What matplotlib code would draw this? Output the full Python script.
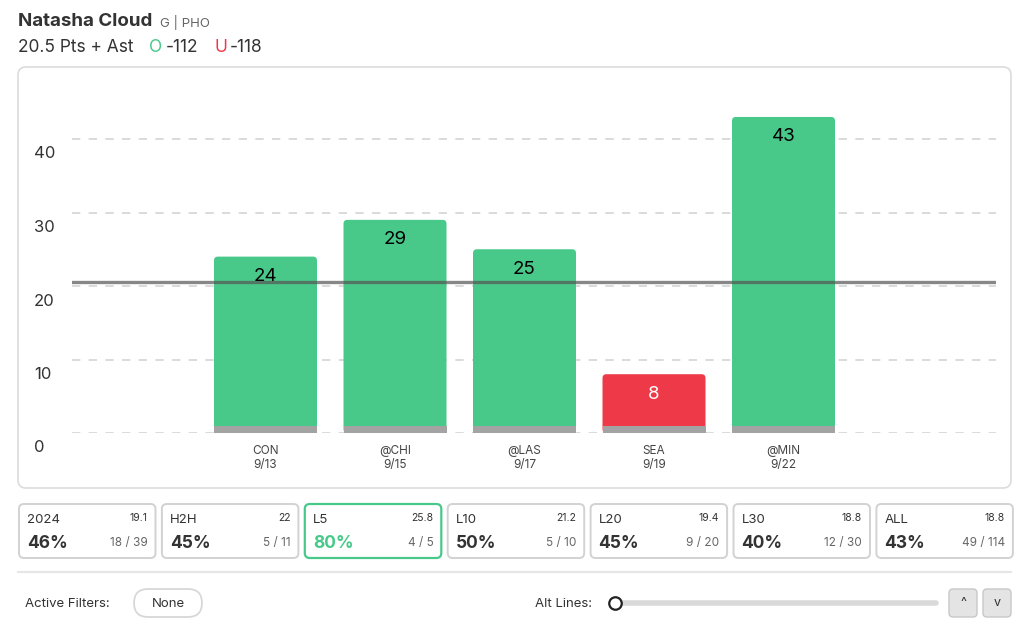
import numpy as np
import matplotlib.pyplot as plt
from matplotlib.patches import FancyBboxPatch, Rectangle
from matplotlib.lines import Line2D

plt.rcParams['font.family'] = ['Inter', 'DejaVu Sans']

#%% data

player = 'Natasha Cloud'
team = 'G | PHO'
prop_line = 20.5
prop_name = '20.5 Pts + Ast'
over_odds = '-112'
under_odds = '-118'

opponents = ['CON', '@CHI', '@LAS', 'SEA', '@MIN']
dates = ['9/13', '9/15', '9/17', '9/19', '9/22']
values = [24, 29, 25, 8, 43]
y_ticks = [0, 10, 20, 30, 40]

card_names = ['2024', 'H2H', 'L5', 'L10', 'L20', 'L30', 'ALL']
card_avgs = ['19.1', '22', '25.8', '21.2', '19.4', '18.8', '18.8']
card_pcts = ['46%', '45%', '80%', '50%', '45%', '40%', '43%']
card_hits = ['18 / 39', '5 / 11', '4 / 5', '5 / 10', '9 / 20', '12 / 30', '49 / 114']
selected = 'L5'

GREEN = '#48c98a'
RED = '#ee3a48'
DARK = '#333333'
GRAY = '#666666'

W, H = 1024, 629
fig = plt.figure(figsize=(W / 100, H / 100), dpi=100)


def fx(px):
    return px / W


def fy(py):
    return 1 - py / H


def ftext(x, y, s, **kw):
    fig.text(fx(x), fy(y), s, **kw)


def box(x0, y0, x1, y1, ec='#d6d6d6', fc='white', r=6, lw=1.2, z=-5):
    p = FancyBboxPatch((fx(x0), fy(y1)), fx(x1 - x0), (y1 - y0) / H,
                       boxstyle='round,pad=0,rounding_size=%f' % (r / W),
                       transform=fig.transFigure, ec=ec, fc=fc, lw=lw, zorder=z,
                       mutation_aspect=W / H)
    fig.patches.append(p)


#%% header

ftext(18, 21, player, fontsize=13.5, fontweight='bold', color=DARK, va='center')
ftext(160, 22, team, fontsize=9.5, color=GRAY, va='center')
ftext(18, 47, prop_name, fontsize=12.5, color=DARK, va='center')
ftext(149, 47, 'O', fontsize=12.5, color=GREEN, va='center')
ftext(166, 47, over_odds, fontsize=12.5, color=DARK, va='center')
ftext(214, 47, 'U', fontsize=12.5, color=RED, va='center')
ftext(230, 47, under_odds, fontsize=12.5, color=DARK, va='center')

# chart card
box(18, 67, 1011, 488, ec='#dcdcdc', r=8)

#%% chart

ax_l, ax_r = 72, 996
ax_top, ax_bot = 80, 433
ax = fig.add_axes([fx(ax_l), fy(ax_bot), fx(ax_r - ax_l), (ax_bot - ax_top) / H])
ax.set_facecolor('none')
ppu = 7.35
x0c, step = 265.5, 129.5
ax.set_xlim((ax_l - x0c) / step, (ax_r - x0c) / step)
ax.set_ylim(0, (ax_bot - ax_top) / ppu)
for s in ax.spines.values():
    s.set_visible(False)
ax.set_xticks([])
ax.set_yticks([])

for t in y_ticks:
    ax.axhline(t, color='#d4d4d4', lw=1.2, ls=(0, (5, 5)), zorder=1)
    ax.annotate(str(t), xy=(0, t), xycoords=('figure fraction', 'data'),
                xytext=(34, -15), textcoords='offset pixels',
                fontsize=12, color=DARK, va='center', ha='left')

xs = np.arange(len(values))
bw = 103 / step
for i, v in enumerate(values):
    c = GREEN if v > prop_line else RED
    p = FancyBboxPatch((xs[i] - bw / 2, 0), bw, v,
                       boxstyle='round,pad=0,rounding_size=0.03',
                       mutation_aspect=step / ppu,
                       fc=c, ec='none', zorder=2)
    ax.add_patch(p)
    ax.add_patch(Rectangle((xs[i] - bw / 2, 0), bw, 0.95, fc='#a3a3a3', ec='none', zorder=3))
    tc = 'black' if v > prop_line else 'white'
    ax.annotate(str(v), xy=(xs[i], v), xytext=(0, -20), textcoords='offset pixels',
                ha='center', va='center', fontsize=13.5, color=tc, zorder=5)
    ax.annotate(opponents[i] + '\n' + dates[i], xy=(xs[i], 0), xytext=(0, -25),
                textcoords='offset pixels', ha='center', va='center',
                fontsize=8.5, color='#444444', linespacing=1.25)

ax.axhline(prop_line, color='#555555', lw=2.4, alpha=0.7, zorder=4)

#%% summary cards

cw, cg = 136.5, 142.9
for i, name in enumerate(card_names):
    x0 = 19 + i * cg
    sel = name == selected
    box(x0, 504, x0 + cw, 558, ec=GREEN if sel else '#d2d2d2', r=5, lw=1.6 if sel else 1.4)
    ftext(x0 + 8, 520, name, fontsize=9.5, color=DARK, va='center')
    ftext(x0 + cw - 8, 518, card_avgs[i], fontsize=7.5, color=DARK, va='center', ha='right')
    ftext(x0 + 8, 543, card_pcts[i], fontsize=12.5, fontweight='bold',
          color=GREEN if sel else DARK, va='center')
    ftext(x0 + cw - 8, 543, card_hits[i], fontsize=8.5, color=GRAY, va='center', ha='right')

#%% footer

fig.lines.append(Line2D([fx(18), fx(1011)], [fy(572), fy(572)], color='#e6e6e6', lw=1.5,
                        transform=fig.transFigure))
ftext(25, 604, 'Active Filters:', fontsize=9.5, color=DARK, va='center')
box(134, 589, 202, 617, ec='#d8d8d8', r=14, lw=1.3)
ftext(168, 604, 'None', fontsize=9.5, color=DARK, va='center', ha='center')

ftext(592, 604, 'Alt Lines:', fontsize=9.5, color=DARK, va='center', ha='right')
fig.lines.append(Line2D([fx(615), fx(936)], [fy(603), fy(603)], color='#d9d9d9', lw=4,
                        solid_capstyle='round', transform=fig.transFigure))
fig.lines.append(Line2D([fx(615)], [fy(603)], marker='o', ms=9, mfc='white', mec='#222222',
                        mew=1.6, transform=fig.transFigure))

for bx, sym in [(949, '^'), (983, 'v')]:
    box(bx, 589, bx + 28, 617, ec='#c8c8c8', fc='#e4e4e4', r=4, lw=1)
    ftext(bx + 14, 603, sym, fontsize=9, color=DARK, va='center', ha='center')

fig.savefig('out.png', dpi=100)
